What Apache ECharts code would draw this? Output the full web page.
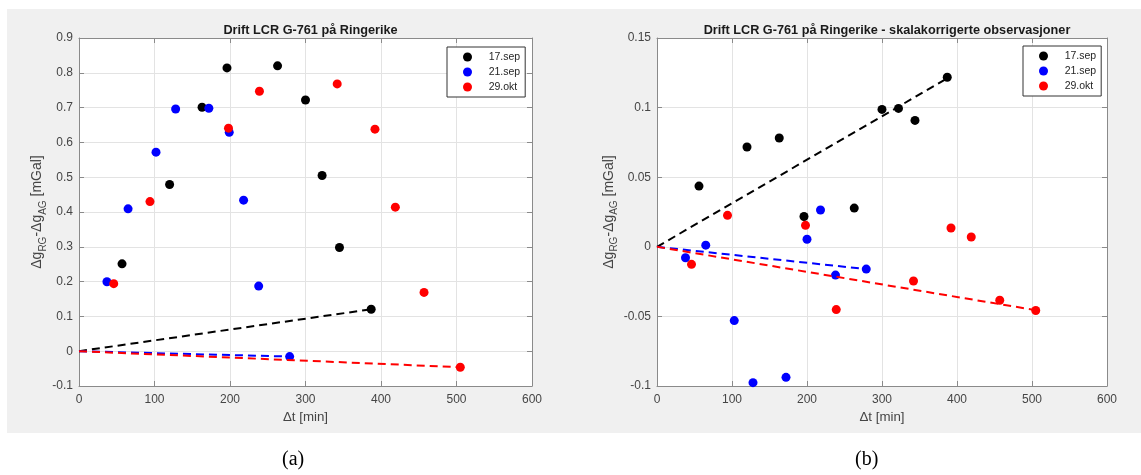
<!DOCTYPE html>
<html>
<head>
<meta charset="utf-8">
<script src="https://cdn.jsdelivr.net/npm/echarts@6/dist/echarts.min.js"></script>
<style>html,body{margin:0;padding:0;background:#fff;}#c{width:1141px;height:475px;}</style>
</head>
<body>
<div id="c"></div>
<script>
// ---- data ----
const seriesNames = ['17.sep', '21.sep', '29.okt'];
const seriesColors = ['#000000', '#0000ff', '#ff0000'];
const titles = ['Drift LCR G-761 på Ringerike', 'Drift LCR G-761 på Ringerike - skalakorrigerte observasjoner'];
const captions = ['(a)', '(b)'];
const xTicks = [0, 100, 200, 300, 400, 500, 600];

// (a) raw observations
const leftSep17 = [[57,0.251],[120,0.479],[163,0.701],[196,0.814],[263,0.820],[300,0.722],[322,0.505],[345,0.298],[387,0.1205]];
const leftSep21 = [[37,0.1995],[65,0.409],[102,0.572],[128,0.696],[172,0.698],[199,0.629],[218,0.434],[238,0.187],[279,-0.0154]];
const leftOkt29 = [[46,0.194],[94,0.430],[198,0.641],[239,0.747],[342,0.768],[392,0.638],[419,0.414],[457,0.169],[505,-0.046]];
const leftFit17 = [[0,0],[387,0.1205]];
const leftFit21 = [[0,0],[279,-0.0154]];
const leftFit29 = [[0,0],[505,-0.046]];
const leftYTicks = [-0.1, 0, 0.1, 0.2, 0.3, 0.4, 0.5, 0.6, 0.7, 0.8, 0.9];

// (b) scale-corrected observations
const rightSep17 = [[56,0.0436],[120,0.0717],[163,0.0782],[196,0.0218],[263,0.0278],[300,0.0987],[322,0.0994],[344,0.0908],[387,0.1218]];
const rightSep21 = [[38,-0.0079],[65,0.0012],[103,-0.053],[128,-0.0976],[172,-0.0938],[200,0.0054],[218,0.0264],[238,-0.0203],[279,-0.016]];
const rightOkt29 = [[46,-0.0126],[94,0.0226],[198,0.0154],[239,-0.0451],[342,-0.0246],[392,0.0135],[419,0.007],[457,-0.0384],[505,-0.0458]];
const rightFit17 = [[0,0],[387,0.121]];
const rightFit21 = [[0,0],[279,-0.016]];
const rightFit29 = [[0,0],[505,-0.0455]];
const rightYTicks = [-0.1, -0.05, 0, 0.05, 0.1, 0.15];

// ---- layout ----
const FONT = 'Liberation Sans, Arial, Helvetica, sans-serif';
const grids = [
  {left: 79, top: 38, width: 453, height: 348},
  {left: 657, top: 38, width: 450, height: 348}
];
const axisCol = '#8a8a8a';
const labelCol = '#454545';

function xAxes(gi) {
  const base = {
    gridIndex: gi, type: 'value', min: xTicks[0], max: xTicks[xTicks.length-1],
    interval: xTicks[1]-xTicks[0],
    axisLine: {show: true, onZero: false, lineStyle: {color: axisCol, width: 1}},
    axisTick: {show: true, inside: true, length: 5, lineStyle: {color: axisCol}},
    splitLine: {show: false}
  };
  return [
    Object.assign({}, base, {
      position: 'bottom',
      axisLabel: {show: true, color: labelCol, fontSize: 12, fontFamily: FONT, margin: 8},
      splitLine: {show: true, lineStyle: {color: '#e3e3e3', width: 1}},
      name: 'Δt [min]', nameLocation: 'middle', nameGap: 23,
      nameTextStyle: {color: labelCol, fontSize: 13.3, fontFamily: FONT}
    }),
    Object.assign({}, base, {position: 'top', axisLabel: {show: false}})
  ];
}
function yAxes(gi, ticks) {
  const base = {
    gridIndex: gi, type: 'value', min: ticks[0], max: ticks[ticks.length-1],
    interval: Math.round((ticks[1]-ticks[0])*1000)/1000,
    axisLine: {show: true, onZero: false, lineStyle: {color: axisCol, width: 1}},
    axisTick: {show: true, inside: true, length: 5, lineStyle: {color: axisCol}},
    splitLine: {show: false}
  };
  return [
    Object.assign({}, base, {
      position: 'left',
      axisLabel: {show: true, color: labelCol, fontSize: 12, fontFamily: FONT, margin: 6},
      splitLine: {show: true, lineStyle: {color: '#e3e3e3', width: 1}},
      name: '{a|Δg}{s|RG}{a|-Δg}{s|AG}{a| [mGal]}',
      nameLocation: 'middle', nameRotate: 90, nameGap: 29,
      nameTextStyle: {
        color: labelCol, fontFamily: FONT,
        rich: {
          a: {fontSize: 14, fontFamily: FONT, color: labelCol, lineHeight: 22, verticalAlign: 'middle'},
          s: {fontSize: 10, fontFamily: FONT, color: labelCol, lineHeight: 10, verticalAlign: 'bottom'}
        }
      }
    }),
    Object.assign({}, base, {position: 'right', axisLabel: {show: false}})
  ];
}

function scatter(name, data, color, xi, yi) {
  return {name: name, type: 'scatter', data: data, xAxisIndex: xi, yAxisIndex: yi,
    symbol: 'circle', symbolSize: 9, itemStyle: {color: color, opacity: 1}, z: 3, silent: true};
}
function fit(name, data, color, xi, yi) {
  return {name: name + ' fit', type: 'line', data: data, xAxisIndex: xi, yAxisIndex: yi,
    symbol: 'none', lineStyle: {color: color, width: 2, type: [8, 5]}, z: 4, silent: true, animation: false};
}

const leftSets = [leftSep17, leftSep21, leftOkt29];
const leftFits = [leftFit17, leftFit21, leftFit29];
const rightSets = [rightSep17, rightSep21, rightOkt29];
const rightFits = [rightFit17, rightFit21, rightFit29];

const series = [];
seriesNames.forEach((n, i) => series.push(scatter(n, leftSets[i], seriesColors[i], 0, 0)));
seriesNames.forEach((n, i) => series.push(fit(n, leftFits[i], seriesColors[i], 0, 0)));
seriesNames.forEach((n, i) => series.push(scatter(n, rightSets[i], seriesColors[i], 2, 2)));
seriesNames.forEach((n, i) => series.push(fit(n, rightFits[i], seriesColors[i], 2, 2)));

function legend(left, top) {
  return {
    data: seriesNames, left: left, top: top, orient: 'vertical',
    icon: 'circle', itemWidth: 9, itemHeight: 9, itemGap: 3,
    padding: [4, 5, 4, 16],
    width: 76,
    backgroundColor: '#ffffff', borderColor: '#333333', borderWidth: 1,
    formatter: n => '    ' + n,
    textStyle: {color: '#262626', fontSize: 10.5, fontFamily: FONT, lineHeight: 12},
    selectedMode: false
  };
}

const chart = echarts.init(document.getElementById('c'), null, {renderer: 'canvas'});
chart.setOption({
  animation: false,
  backgroundColor: '#ffffff',
  title: titles.map((t, i) => ({
    text: t, left: grids[i].left + grids[i].width / 2, top: 19, textAlign: 'center',
    textStyle: {fontSize: 12.7, fontWeight: 'bold', color: '#1a1a1a', fontFamily: FONT}
  })),
  graphic: [
    {type: 'rect', shape: {x: 7, y: 9, width: 1134, height: 424}, style: {fill: '#f0f0f0'}, z: -10, silent: true},
    {type: 'text', left: 282, top: 450, style: {text: captions[0], font: '20px "Liberation Serif", "DejaVu Serif", serif', fill: '#000'}},
    {type: 'text', left: 855, top: 450, style: {text: captions[1], font: '20px "Liberation Serif", "DejaVu Serif", serif', fill: '#000'}}
  ],
  legend: [legend(447, 47), legend(1023, 46)],
  grid: grids.map(g => Object.assign({}, g, {show: true, backgroundColor: '#ffffff', borderWidth: 0, containLabel: false})),
  xAxis: [].concat(xAxes(0), xAxes(1)),
  yAxis: [].concat(yAxes(0, leftYTicks), yAxes(1, rightYTicks)),
  series: series
});
</script>
</body>
</html>
